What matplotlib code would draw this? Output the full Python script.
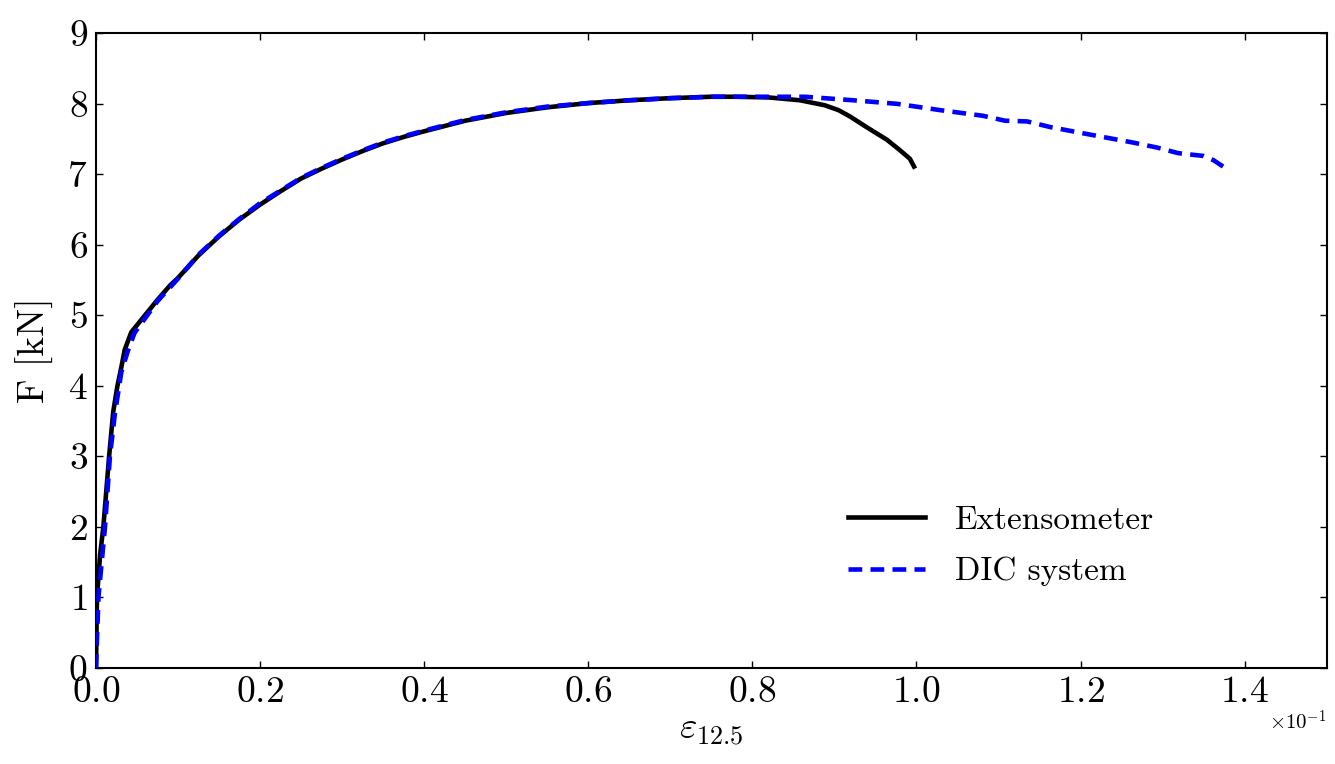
import numpy as np
import matplotlib
matplotlib.use("Agg")
import matplotlib.pyplot as plt

plt.rcParams["font.family"] = "serif"
plt.rcParams["font.serif"] = ["cmr10", "DejaVu Serif"]
plt.rcParams["mathtext.fontset"] = "cm"
plt.rcParams["axes.formatter.use_mathtext"] = True
plt.rcParams["axes.unicode_minus"] = False

# Extensometer measurement: strain over 12.5 mm gauge, force in kN
strain_ext = [0.0, 0.00012, 0.0005, 0.0009, 0.00125, 0.0016, 0.0021, 0.0026,
              0.0031, 0.0035, 0.0043, 0.0075, 0.009, 0.010, 0.0125, 0.015,
              0.0175, 0.020, 0.0225, 0.025, 0.0275, 0.030, 0.0325, 0.035,
              0.0375, 0.040, 0.045, 0.050, 0.055, 0.060, 0.065, 0.070,
              0.075, 0.078, 0.082, 0.0858, 0.0888, 0.0905, 0.0919, 0.0939,
              0.0964, 0.0980, 0.0992, 0.0997]
force_ext = [0.0, 1.0, 1.6, 2.0, 2.5, 3.0, 3.63, 3.99,
             4.27, 4.51, 4.76, 5.22, 5.42, 5.53, 5.85, 6.12,
             6.36, 6.57, 6.76, 6.94, 7.08, 7.21, 7.33, 7.44,
             7.53, 7.61, 7.76, 7.87, 7.95, 8.01, 8.05, 8.08,
             8.10, 8.10, 8.09, 8.05, 7.98, 7.91, 7.82, 7.67,
             7.49, 7.34, 7.22, 7.11]

# DIC system measurement
strain_dic = [0.0, 0.0003, 0.0007, 0.0011, 0.0014, 0.0017, 0.0023, 0.0031,
              0.0039, 0.0047, 0.0075, 0.010, 0.0125, 0.015, 0.0175, 0.020,
              0.0225, 0.025, 0.0275, 0.030, 0.0325, 0.035, 0.0375, 0.040,
              0.045, 0.050, 0.055, 0.060, 0.065, 0.070, 0.075, 0.080,
              0.0864, 0.0923, 0.0976, 0.1029, 0.1081, 0.1108, 0.1135,
              0.1163, 0.1213, 0.1264, 0.1293, 0.1319, 0.1350, 0.1362,
              0.1375]
force_dic = [0.0, 1.0, 1.5, 2.0, 2.5, 3.0, 3.6, 4.2,
             4.5, 4.75, 5.2, 5.52, 5.86, 6.13, 6.37, 6.59,
             6.77, 6.95, 7.09, 7.22, 7.34, 7.45, 7.54, 7.62,
             7.77, 7.88, 7.96, 8.01, 8.05, 8.08, 8.10, 8.10,
             8.10, 8.05, 8.00, 7.91, 7.83, 7.76, 7.75,
             7.67, 7.56, 7.45, 7.38, 7.30, 7.26, 7.20,
             7.10]

fig = plt.figure(figsize=(13.35, 7.64), dpi=100)
ax = fig.add_axes([0.0719, 0.126, 0.9219, 0.8304])

ax.plot(strain_ext, force_ext, color="black", lw=3.3, ls="-",
        label="Extensometer", zorder=2)
ax.plot(strain_dic, force_dic, color="blue", lw=3.3, ls=(0, (3.0, 1.8)),
        label="DIC system", zorder=3)

ax.set_xlim(0, 0.15)
ax.set_ylim(0, 9)
ax.set_xticks(np.arange(0, 0.1401, 0.02))
ax.set_yticks(np.arange(0, 10, 1))
ax.ticklabel_format(axis="x", style="sci", scilimits=(0, 0))

ax.tick_params(direction="in", top=True, right=True, length=5, width=1,
               labelsize=27, pad=6)
ax.xaxis.get_offset_text().set_visible(False)
ax.text(1.0, -0.098, r"$\times10^{-1}$", transform=ax.transAxes,
        ha="right", va="baseline", fontsize=15)
for s in ax.spines.values():
    s.set_linewidth(1.5)

ax.set_xlabel(r"$\varepsilon_{12.5}$", fontsize=27, labelpad=4)
ax.set_ylabel("F [kN]", fontsize=27, labelpad=10)

leg = ax.legend(loc="center left", bbox_to_anchor=(0.611, 0.192),
                frameon=False, fontsize=24, borderaxespad=0, borderpad=0,
                handlelength=2.3, handletextpad=0.9, labelspacing=0.66)

fig.savefig("out.png", dpi=100)
